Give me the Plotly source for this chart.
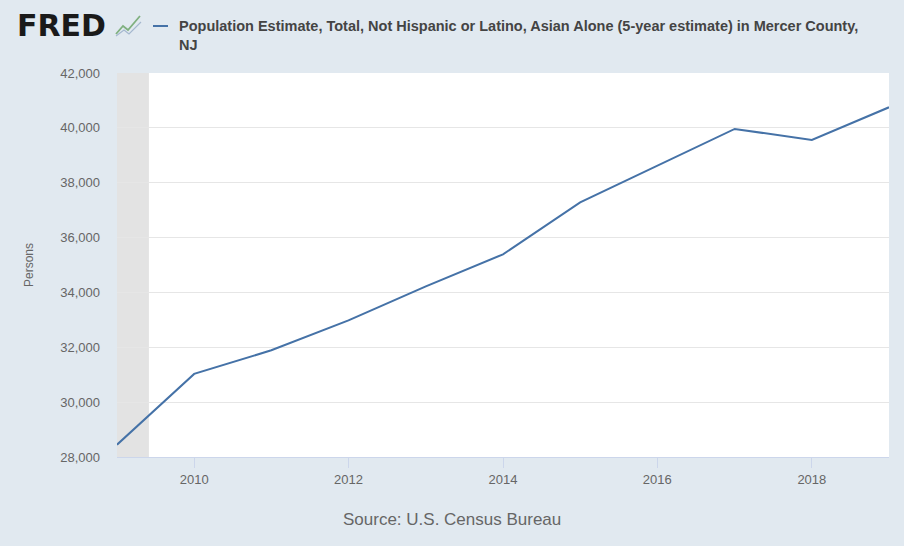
import plotly.graph_objects as go

dates = ["2009-01-01", "2010-01-01", "2011-01-01", "2012-01-01", "2013-01-01", "2014-01-01",
         "2015-01-01", "2016-01-01", "2017-01-01", "2018-01-01", "2019-01-01"]
values = [28450, 31030, 31890, 32980, 34220, 35390, 37280, 38630, 39960, 39560, 40750]
tick_dates = ["2010-01-01", "2012-01-01", "2014-01-01", "2016-01-01", "2018-01-01"]
tick_labels = ["2010", "2012", "2014", "2016", "2018"]
recession = ("2009-01-01", "2009-06-01")
series_name = "Population Estimate, Total, Not Hispanic or Latino, Asian Alone (5-year estimate) in Mercer County,<br>NJ"

W, H = 904, 546
L, R, T, B = 117, 15, 73, 89
pw, ph = W - L - R, H - T - B


def px(x):
    return (x - L) / pw


def py(y):
    return (H - B - y) / ph


FONT = "Liberation Sans, Arial, sans-serif"

fig = go.Figure()
fig.add_trace(go.Scatter(x=dates, y=values, mode="lines",
                         line=dict(color="#4572a7", width=2), showlegend=False,
                         hoverinfo="x+y"))

fig.add_vrect(x0=recession[0], x1=recession[1], fillcolor="#e3e3e3", line_width=0, layer="below")

fig.update_layout(
    width=W, height=H,
    margin=dict(l=L, r=R, t=T, b=B),
    paper_bgcolor="#e1e9f0",
    plot_bgcolor="#ffffff",
    font=dict(family=FONT, color="#666666"),
    xaxis=dict(type="date", range=[dates[0], dates[-1]], tickvals=tick_dates, ticktext=tick_labels,
               ticks="outside", ticklen=10, tickcolor="#ccd6eb", showgrid=False,
               showline=True, linecolor="#ccd6eb", linewidth=1,
               tickfont=dict(size=13, color="#666666"), zeroline=False),
    yaxis=dict(range=[28000, 42000], dtick=2000, tickformat=",", showgrid=True,
               gridcolor="#e6e6e6", gridwidth=1, zeroline=False, showline=False,
               ticks="", ticklabelstandoff=16,
               tickfont=dict(size=13, color="#666666"),
               title=dict(text="Persons", font=dict(size=12, color="#666666"), standoff=24)),
)

# FRED logo text
fig.add_annotation(xref="paper", yref="paper", x=px(15), y=py(25), xanchor="left", yanchor="middle",
                   text="<b>FRED</b>", showarrow=False,
                   font=dict(family="DejaVu Sans, sans-serif", size=30, color="#1a1a1a"))
# little logo icon
fig.add_shape(type="path", xref="paper", yref="paper",
              path=f"M {px(116)} {py(34)} L {px(123)} {py(26)} L {px(128)} {py(30)} L {px(140)} {py(16)}",
              line=dict(color="#7fb07f", width=1.8))
fig.add_shape(type="path", xref="paper", yref="paper",
              path=f"M {px(116)} {py(36)} L {px(124)} {py(30)} L {px(129)} {py(34)} L {px(141)} {py(22)}",
              line=dict(color="#a5b8cf", width=1.2))
# legend line
fig.add_shape(type="line", xref="paper", yref="paper", x0=px(153), x1=px(168), y0=py(26), y1=py(26),
              line=dict(color="#4572a7", width=2))
fig.add_annotation(xref="paper", yref="paper", x=px(177), y=py(16), xanchor="left", yanchor="top",
                   text=series_name, showarrow=False, align="left",
                   font=dict(family=FONT, size=14.5, color="#444444", weight="bold"))
# source
fig.add_annotation(xref="paper", yref="paper", x=px(452), y=py(519), xanchor="center", yanchor="middle",
                   text="Source: U.S. Census Bureau", showarrow=False,
                   font=dict(family=FONT, size=17, color="#666666"))

fig.write_html("out.html", config={"displayModeBar": False},
               post_script="document.body.style.margin='0';")
